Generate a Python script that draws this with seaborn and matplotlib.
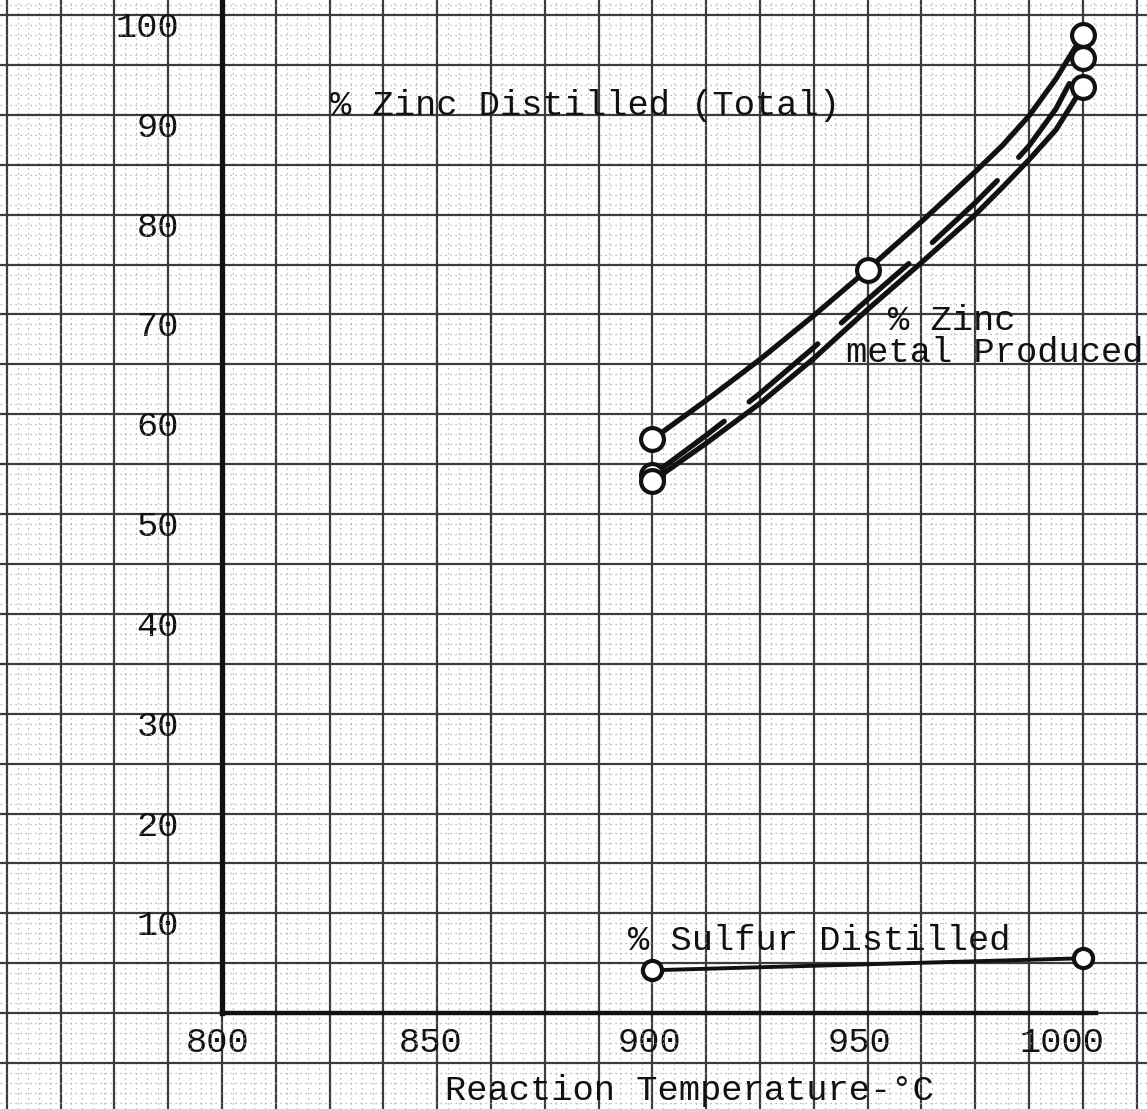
import numpy as np
import pandas as pd
import matplotlib
matplotlib.use("Agg")
import matplotlib.pyplot as plt
from matplotlib.transforms import ScaledTranslation
import seaborn as sns

# ---------------- data ----------------
temps = [900, 912.5, 925, 937.5, 950, 962.5, 975, 981.25, 987.5, 993.75, 1000]
zinc_total = [57.5, 61.4, 65.5, 69.9, 74.5, 79.3, 84.3, 86.9, 89.9, 93.6, 98.0]   # % Zinc Distilled (Total)
zinc_dashed = [53.9, 57.9, 62.1, 66.7, 71.5, 76.2, 81.2, 83.9, 86.9, 90.6, 95.7]  # dashed curve
zinc_metal = [53.3, 57.1, 61.1, 65.6, 70.5, 75.2, 80.0, 82.7, 85.5, 88.5, 92.8]   # % Zinc metal Produced
total_marked_t = [900, 950, 1000]
total_marked_v = [57.5, 74.5, 98.0]
dashed_marked_t = [900, 1000]
dashed_marked_v = [53.9, 95.7]
metal_marked_t = [900, 1000]
metal_marked_v = [53.3, 92.8]
sulfur_t = [900, 1000]
sulfur_v = [4.3, 5.5]                             # % Sulfur Distilled

x_tick_vals = [800, 850, 900, 950, 1000]
x_tick_labels = ["800", "850", "900", "950", "1000"]
y_tick_vals = [10, 20, 30, 40, 50, 60, 70, 80, 90, 100]
y_tick_labels = ["10", "20", "30", "40", "50", "60", "70", "80", "90", "100"]

# ---------------- style ----------------
sns.set_style("white")
plt.rcParams["font.family"] = ["Liberation Mono", "DejaVu Sans Mono"]
FS = 25.5
INK = "#111111"

fig = plt.figure(figsize=(11.47, 11.09), dpi=100)
ax = fig.add_axes([0, 0, 1, 1])
ax.set_xlim(748.4, 1014.9)
ax.set_ylim(-9.6, 101.5)

# graph paper: major lines every 12.5 degC / 5 %, dotted minor lines every 2.5 / 1
xgrid = np.arange(750, 1014, 12.5)
ygrid = np.arange(-5, 101, 5)
ax.set_xticks(xgrid)
ax.set_xticklabels([x_tick_labels[x_tick_vals.index(v)] if v in x_tick_vals else "" for v in xgrid])
ax.set_yticks(ygrid)
ax.set_yticklabels([y_tick_labels[y_tick_vals.index(v)] if v in y_tick_vals else "" for v in ygrid])
ax.set_xticks(np.arange(750, 1015, 2.5), minor=True)
ax.set_yticks(np.arange(-9, 102, 1), minor=True)
ax.grid(True, which="major", color="#3c3c3c", lw=1.6, zorder=0)
ax.grid(True, which="minor", color="#a8a8a8", lw=0.9, ls=(0, (1, 3)), zorder=0)
ax.set_axisbelow(True)

# axes drawn as heavy lines through the origin (800, 0)
for s in ("top", "right"):
    ax.spines[s].set_visible(False)
ax.spines["left"].set_position(("data", 800))
ax.spines["bottom"].set_position(("data", 0))
ax.spines["left"].set_bounds(0, 101.5)
ax.spines["bottom"].set_bounds(800, 1003)
ax.spines["left"].set_linewidth(3.8)
ax.spines["bottom"].set_linewidth(3.2)
ax.spines["left"].set_color(INK)
ax.spines["bottom"].set_color(INK)
ax.spines["left"].set_zorder(3)
ax.spines["bottom"].set_zorder(3)

ax.tick_params(axis="both", which="both", length=0, labelsize=FS, labelcolor=INK)
ax.tick_params(axis="x", pad=9)
ax.tick_params(axis="y", pad=31)

# ---------------- curves ----------------
lw = 3.8
sns.lineplot(x=temps, y=zinc_total, color=INK, lw=lw, ax=ax, zorder=3,
             solid_capstyle="round", solid_joinstyle="round")
sns.lineplot(x=temps, y=zinc_dashed, color=INK, lw=lw, ax=ax, zorder=3,
             linestyle=(0, (17, 6)), dash_capstyle="round", dash_joinstyle="round")
sns.lineplot(x=temps, y=zinc_metal, color=INK, lw=lw, ax=ax, zorder=3,
             solid_capstyle="round", solid_joinstyle="round")
sns.lineplot(x=sulfur_t, y=sulfur_v, color=INK, lw=2.8, ax=ax, zorder=3)

mk = dict(marker="o", color="white", edgecolor=INK, zorder=4, ax=ax, legend=False)
sns.scatterplot(x=total_marked_t, y=total_marked_v, s=270, linewidth=3.0, **mk)
sns.scatterplot(x=dashed_marked_t, y=dashed_marked_v, s=270, linewidth=3.0, **mk)
sns.scatterplot(x=metal_marked_t, y=metal_marked_v, s=270, linewidth=3.0, **mk)
sns.scatterplot(x=sulfur_t, y=sulfur_v, s=190, linewidth=3.0, **mk)

# ---------------- typed annotations ----------------
tkw = dict(fontsize=FS, color=INK, va="baseline", ha="left", zorder=5)
ax.text(825.1, 90.0, "% Zinc Distilled (Total)", **tkw)
ax.text(954.7, 68.4, "% Zinc", **tkw)
ax.text(944.9, 65.2, "metal Produced", **tkw)
ax.text(894.2, 6.3, "% Sulfur Distilled", **tkw)
ax.text(851.9, -8.7, "Reaction Temperature-°C", **tkw)

ax.set_xlabel("")
ax.set_ylabel("")

# small hand-placement offsets of the typed tick numbers
x_offsets_px = {"800": -4, "850": -7, "900": -3, "950": -8, "1000": -21}
for lab in ax.get_xticklabels():
    t = lab.get_text()
    if t in x_offsets_px:
        lab.set_transform(lab.get_transform() +
                          ScaledTranslation(x_offsets_px[t] / 100, 0, fig.dpi_scale_trans))
for lab in ax.get_yticklabels():
    lab.set_transform(lab.get_transform() +
                      ScaledTranslation(0, -9 / 100, fig.dpi_scale_trans))

fig.savefig("out.png", dpi=100, facecolor="white")
